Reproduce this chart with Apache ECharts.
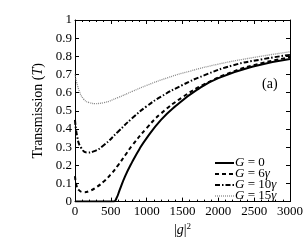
<!DOCTYPE html>
<html><head><meta charset="utf-8">
<script src="https://cdn.jsdelivr.net/npm/echarts@6/dist/echarts.min.js"></script>
<style>html,body{margin:0;padding:0;background:#fff}#c{width:306px;height:242px}</style>
</head><body><div id="c"></div>
<script>
const xTicks = [0, 500, 1000, 1500, 2000, 2500, 3000];
const seriesNames = ['G = 0', 'G = 6γ', 'G = 10γ', 'G = 15γ'];

const g0X = [0, 200, 400, 540, 580, 620, 700, 800, 900, 1000, 1200, 1400, 1700, 2000, 2500, 3000];
const g0T = [0, 0, 0, 0, 0.02, 0.06, 0.14, 0.22, 0.29, 0.35, 0.45, 0.525, 0.615, 0.68, 0.745, 0.785];

const g6X = [0, 20, 50, 120, 200, 300, 400, 500, 600, 700, 800, 1000, 1200, 1500, 1800, 2200, 2600, 3000];
const g6T = [0.14, 0.09, 0.065, 0.052, 0.058, 0.08, 0.11, 0.15, 0.2, 0.255, 0.31, 0.405, 0.485, 0.575, 0.645, 0.715, 0.762, 0.795];

const g10X = [0, 30, 80, 170, 250, 400, 600, 800, 1000, 1200, 1500, 1800, 2200, 2600, 3000];
const g10T = [0.45, 0.36, 0.3, 0.27, 0.275, 0.31, 0.385, 0.46, 0.525, 0.578, 0.642, 0.695, 0.75, 0.783, 0.808];

const g15X = [0, 50, 120, 200, 280, 400, 600, 800, 1000, 1300, 1600, 2000, 2500, 3000];
const g15T = [0.70, 0.62, 0.565, 0.545, 0.54, 0.545, 0.573, 0.607, 0.64, 0.683, 0.718, 0.757, 0.794, 0.825];

const zip = (xs, ys) => xs.map((x, i) => [x, ys[i]]);
const serif = '"Liberation Serif","DejaVu Serif",serif';

const chart = echarts.init(document.getElementById('c'), null, {renderer: 'canvas'});
const baseX = {
  type: 'value', min: 0, max: 3000, interval: 500,
  axisLine: {show: true, onZero: false, lineStyle: {color: '#000', width: 1}},
  axisTick: {show: true, inside: true, length: 4, lineStyle: {color: '#000'}},
  minorTick: {show: true, splitNumber: 5, length: 2, lineStyle: {color: '#000'}},
  splitLine: {show: false}
};
const baseY = {
  type: 'value', min: 0, max: 1, interval: 0.1,
  axisLine: {show: true, onZero: false, lineStyle: {color: '#000', width: 1}},
  axisTick: {show: true, inside: true, length: 4, lineStyle: {color: '#000'}},
  minorTick: {show: false},
  splitLine: {show: false}
};
const lbl = {fontFamily: serif, fontSize: 13, color: '#000'};
const rich = {
  i: {fontFamily: serif, fontStyle: 'italic', fontSize: 14, color: '#000'},
  n: {fontFamily: serif, fontSize: 14, color: '#000'}
};
const legendLabels = [
  '{i|G}{n| = 0}',
  '{i|G}{n| = 6}{i|γ}',
  '{i|G}{n| = 10}{i|γ}',
  '{i|G}{n| = 15}{i|γ}'
];
const styles = [
  {color: '#000', width: 2, type: 'solid'},
  {color: '#000', width: 2, type: [4, 3]},
  {color: '#000', width: 2, type: [5, 2, 1.5, 2]},
  {color: '#8a8a8a', width: 1.3, type: [1, 1]}
];
const datas = [zip(g0X, g0T), zip(g6X, g6T), zip(g10X, g10T), zip(g15X, g15T)];

const legendRows = [163, 174, 185, 196];
const legendGraphics = [];
legendRows.forEach((y, i) => {
  legendGraphics.push({
    type: 'line', shape: {x1: 215, y1: y, x2: 234, y2: y},
    style: {stroke: styles[i].color, lineWidth: styles[i].width,
      lineDash: styles[i].type === 'solid' ? null : styles[i].type}
  });
  legendGraphics.push({
    type: 'text', x: 235, y: y, 
    style: {text: legendLabels[i], verticalAlign: 'middle', rich: {
      i: {fontFamily: serif, fontStyle: 'italic', fontSize: 13, fill: '#000'},
      n: {fontFamily: serif, fontSize: 13, fill: '#000'}
    }}
  });
});
legendGraphics.push({
  type: 'text', left: 262, top: 77,
  style: {text: '(a)', font: '14px ' + serif, fill: '#000'}
});

chart.setOption({
  animation: false,
  backgroundColor: '#fff',
  grid: {left: 75, right: 16, top: 20, bottom: 33},
  xAxis: [
    Object.assign({}, baseX, {position: 'bottom',
      axisLabel: Object.assign({margin: 3, formatter: v => String(v)}, lbl),
      name: '{n||}{i|g}{n||}{s|2}', nameLocation: 'middle', nameGap: 18,
      nameTextStyle: {rich: Object.assign({s: {fontFamily: serif, fontSize: 9, color: '#000', verticalAlign: 'top', padding: [0,0,6,0]}}, rich)}
    }),
    Object.assign({}, baseX, {position: 'top', axisLabel: {show: false}})
  ],
  yAxis: [
    Object.assign({}, baseY, {position: 'left',
      axisLabel: Object.assign({margin: 3, formatter: v => String(+v.toFixed(1))}, lbl),
      name: '{n|Transmission (}{i|T}{n|)}', nameLocation: 'middle', nameGap: 22,
      nameTextStyle: {rich: rich}
    }),
    Object.assign({}, baseY, {position: 'right', axisLabel: {show: false}})
  ],
  graphic: legendGraphics,
  series: seriesNames.map((n, i) => ({
    name: n, type: 'line', data: datas[i], symbol: 'none',
    smooth: 0.5,
    lineStyle: styles[i], itemStyle: {color: styles[i].color},
    z: 4 - i
  }))
});
</script></body></html>
